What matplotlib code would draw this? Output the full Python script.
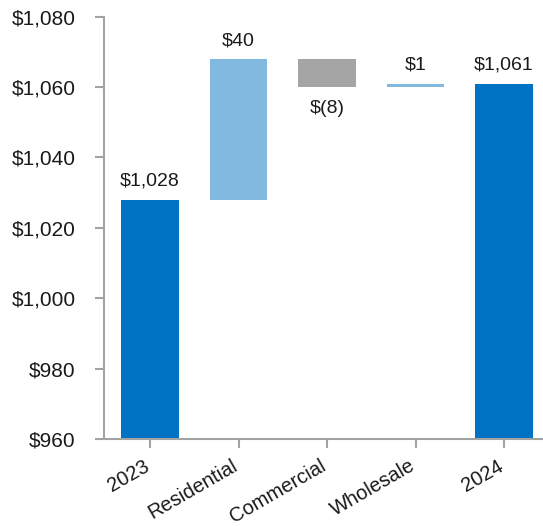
import matplotlib
matplotlib.use("Agg")
import matplotlib.pyplot as plt
from matplotlib.transforms import ScaledTranslation

plt.rcParams['font.family'] = ['Liberation Sans', 'DejaVu Sans']

categories = ["2023", "Residential", "Commercial", "Wholesale", "2024"]
start_total = 1028
changes = [40, -8, 1]
end_total = 1061
labels = ["$1,028", "$40", "$(8)", "$1", "$1,061"]

dark_blue = "#0072C3"
light_blue = "#82B9E1"
gray = "#A5A5A5"
axis_gray = "#A3A3A3"
text_color = "#1a1a1a"

fig = plt.figure(figsize=(5.43, 5.26), dpi=100)
ax = fig.add_axes([0.1921, 0.1654, 0.8079, 0.8029])

# waterfall geometry from the data
base = 960
bottoms, heights, colors = [base], [start_total - base], [dark_blue]
running = start_total
for c in changes:
    if c >= 0:
        bottoms.append(running); heights.append(c); colors.append(light_blue)
    else:
        bottoms.append(running + c); heights.append(-c); colors.append(gray)
    running += c
bottoms.append(base); heights.append(end_total - base); colors.append(dark_blue)

x = list(range(len(categories)))
ax.bar(x, heights, bottom=bottoms, width=0.65, color=colors, zorder=2)

# value labels
values = [start_total] + changes + [end_total]
for i, (b, h, v, lab) in enumerate(zip(bottoms, heights, values, labels)):
    if v < 0:
        ax.annotate(lab, (i, b), xytext=(0, -9), textcoords="offset points",
                    ha="center", va="top", fontsize=14, color=text_color)
    else:
        ax.annotate(lab, (i, b + h), xytext=(0, 7), textcoords="offset points",
                    ha="center", va="bottom", fontsize=14, color=text_color)

ax.set_xlim(-0.516, 4.44)
ax.set_ylim(960, 1080)
ax.set_yticks(range(960, 1081, 20))
ax.set_yticklabels([f"${v:,}" for v in range(960, 1081, 20)])
ax.set_xticks(x)
ax.set_xticklabels(categories, rotation=30, ha="right", rotation_mode="anchor")

for s in ["top", "right"]:
    ax.spines[s].set_visible(False)
for s in ["left", "bottom"]:
    ax.spines[s].set_color(axis_gray)
    ax.spines[s].set_linewidth(1.5)
ax.tick_params(axis="both", direction="out", color=axis_gray, width=1.5,
               length=6.5, labelsize=15, labelcolor=text_color)
ax.tick_params(axis="x", pad=6, labelsize=14.5)
ax.tick_params(axis="y", pad=14)

# nudge the rotated category labels so their ends sit under the ticks
shift = ScaledTranslation(-0.07, 0.0, fig.dpi_scale_trans)
for lbl in ax.get_xticklabels():
    lbl.set_transform(lbl.get_transform() + shift)

fig.savefig("out.png", dpi=100)
